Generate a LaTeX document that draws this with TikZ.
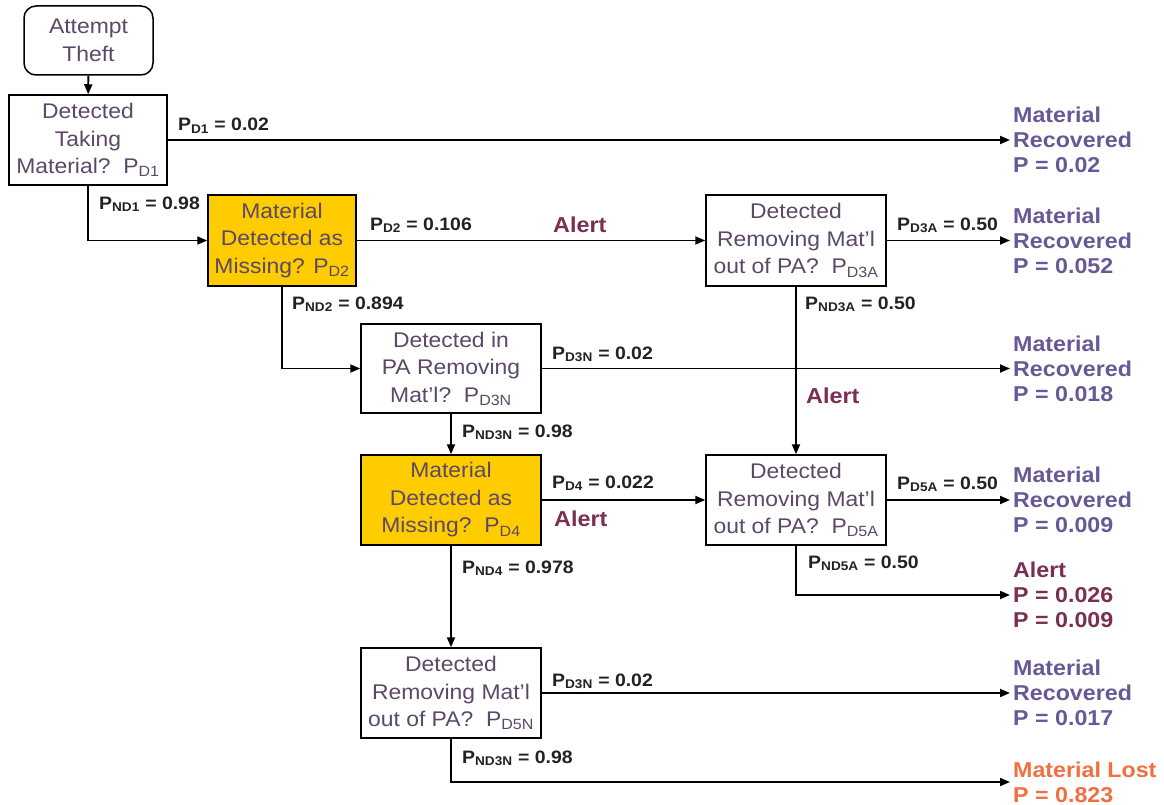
\documentclass[tikz,border=0pt]{standalone}
\usepackage{fontspec}
\setmainfont{Liberation Sans}
\newfontfamily\widesans{Liberation Sans}[FakeStretch=1.08]
\usetikzlibrary{arrows.meta}

\definecolor{boxtext}{RGB}{92,72,104}
\definecolor{recov}{RGB}{104,88,150}
\definecolor{alertc}{RGB}{122,46,82}
\definecolor{lostc}{RGB}{240,112,64}
\definecolor{missfill}{RGB}{255,204,0}
\definecolor{lbl}{RGB}{34,34,34}

\tikzset{
  qbox/.style={draw=black, line width=1.5pt, fill=white, text=boxtext, align=center,
    inner sep=0pt, font=\widesans\fontsize{21.2}{27.5}\selectfont},
  missbox/.style={qbox, fill=missfill},
  prob/.style={anchor=base west, inner sep=0pt, text=lbl, font=\widesans\fontsize{18}{20}\selectfont\bfseries},
  alertlbl/.style={anchor=base west, inner sep=0pt, text=alertc, font=\widesans\fontsize{21.6}{24}\selectfont\bfseries},
  outcome/.style={anchor=west, inner xsep=3pt, inner ysep=0pt, align=left,
    font=\widesans\fontsize{21.5}{25}\selectfont\bfseries},
  flow/.style={line width=1.9pt, -{Triangle[length=10pt,width=8pt]}}
}

\begin{document}
\begin{tikzpicture}[x=1pt,y=-1pt]
\useasboundingbox (0,0) rectangle (1164,805);

% decision boxes
\node[qbox, rounded corners=12pt, minimum width=129pt, minimum height=69pt] (start) at (88.5,40.5) {Attempt\\Theft};
\node[qbox, minimum width=158pt, minimum height=90pt] (d1) at (88,140) {Detected\\Taking\\Material?\ \ P\textsubscript{D1}};
\node[missbox, minimum width=148pt, minimum height=91pt] (d2) at (282,240.5) {Material\\Detected as\\Missing? P\textsubscript{D2}};
\node[qbox, minimum width=180pt, minimum height=91pt] (d3a) at (796,240.5) {Detected\\Removing Mat’l\\out of PA?\ \ P\textsubscript{D3A}};
\node[qbox, minimum width=180pt, minimum height=89pt] (d3n) at (451,368.5) {Detected in\\PA Removing\\Mat’l?\ \ P\textsubscript{D3N}};
\node[missbox, minimum width=180pt, minimum height=90pt] (d4) at (451,500) {Material\\Detected as\\Missing?\ \ P\textsubscript{D4}};
\node[qbox, minimum width=180pt, minimum height=90pt] (d5a) at (796,500) {Detected\\Removing Mat’l\\out of PA?\ \ P\textsubscript{D5A}};
\node[qbox, minimum width=180pt, minimum height=90pt] (d5n) at (451,693) {Detected\\Removing Mat’l\\out of PA?\ \ P\textsubscript{D5N}};

% outcomes
\node[outcome, text=recov] (r1) at (1010,140) {Material\\Recovered\\P = 0.02};
\node[outcome, text=recov] (r2) at (1010,240.5) {Material\\Recovered\\P = 0.052};
\node[outcome, text=recov] (r3) at (1010,368.5) {Material\\Recovered\\P = 0.018};
\node[outcome, text=recov] (r4) at (1010,500) {Material\\Recovered\\P = 0.009};
\node[outcome, text=alertc] (a5) at (1010,595) {Alert\\P = 0.026\\P = 0.009};
\node[outcome, text=recov] (r6) at (1010,693) {Material\\Recovered\\P = 0.017};
\node[outcome, text=lostc] (lost) at (1010,782) {Material Lost\\P = 0.823};

% connectors
\draw[flow] (start) -- (d1);
\draw[flow] (d1.east) -- (r1.west);
\draw[flow] (d1.south) |- (d2.west);
\draw[flow] (d2) -- (d3a);
\draw[flow] (d3a.east) -- (r2.west);
\draw[flow] (d3a.south -| d5a.north) -- (d5a.north);
\draw[flow] (d2.south) |- (d3n.west);
\draw[flow] (d3n.east) -- (r3.west);
\draw[flow] (d3n) -- (d4);
\draw[flow] (d4) -- (d5a);
\draw[flow] (d5a.east) -- (r4.west);
\draw[flow] (d5a.south) |- (a5.west);
\draw[flow] (d4) -- (d5n);
\draw[flow] (d5n.east) -- (r6.west);
\draw[flow] (d5n.south) |- (lost.west);

% branch probabilities
\node[prob] (l1) at (178,131) {P\textsubscript{D1} = 0.02};
\node[prob] (l2) at (99,209) {P\textsubscript{ND1} = 0.98};
\node[prob] (l3) at (370,230) {P\textsubscript{D2} = 0.106};
\node[prob] (l4) at (897,230) {P\textsubscript{D3A} = 0.50};
\node[prob] (l5) at (292,309) {P\textsubscript{ND2} = 0.894};
\node[prob] (l6) at (805,309) {P\textsubscript{ND3A} = 0.50};
\node[prob] (l7) at (552,359) {P\textsubscript{D3N} = 0.02};
\node[prob] (l8) at (462,437) {P\textsubscript{ND3N} = 0.98};
\node[prob] (l9) at (552,488) {P\textsubscript{D4} = 0.022};
\node[prob] (l10) at (897,489) {P\textsubscript{D5A} = 0.50};
\node[prob] (l11) at (462,573) {P\textsubscript{ND4} = 0.978};
\node[prob] (l12) at (808,568) {P\textsubscript{ND5A} = 0.50};
\node[prob] (l13) at (552,686) {P\textsubscript{D3N} = 0.02};
\node[prob] (l14) at (462,763) {P\textsubscript{ND3N} = 0.98};

% alert labels
\node[alertlbl] (al1) at (553,232) {Alert};
\node[alertlbl] (al2) at (806,403) {Alert};
\node[alertlbl] (al3) at (554,526) {Alert};
\end{tikzpicture}
\end{document}
